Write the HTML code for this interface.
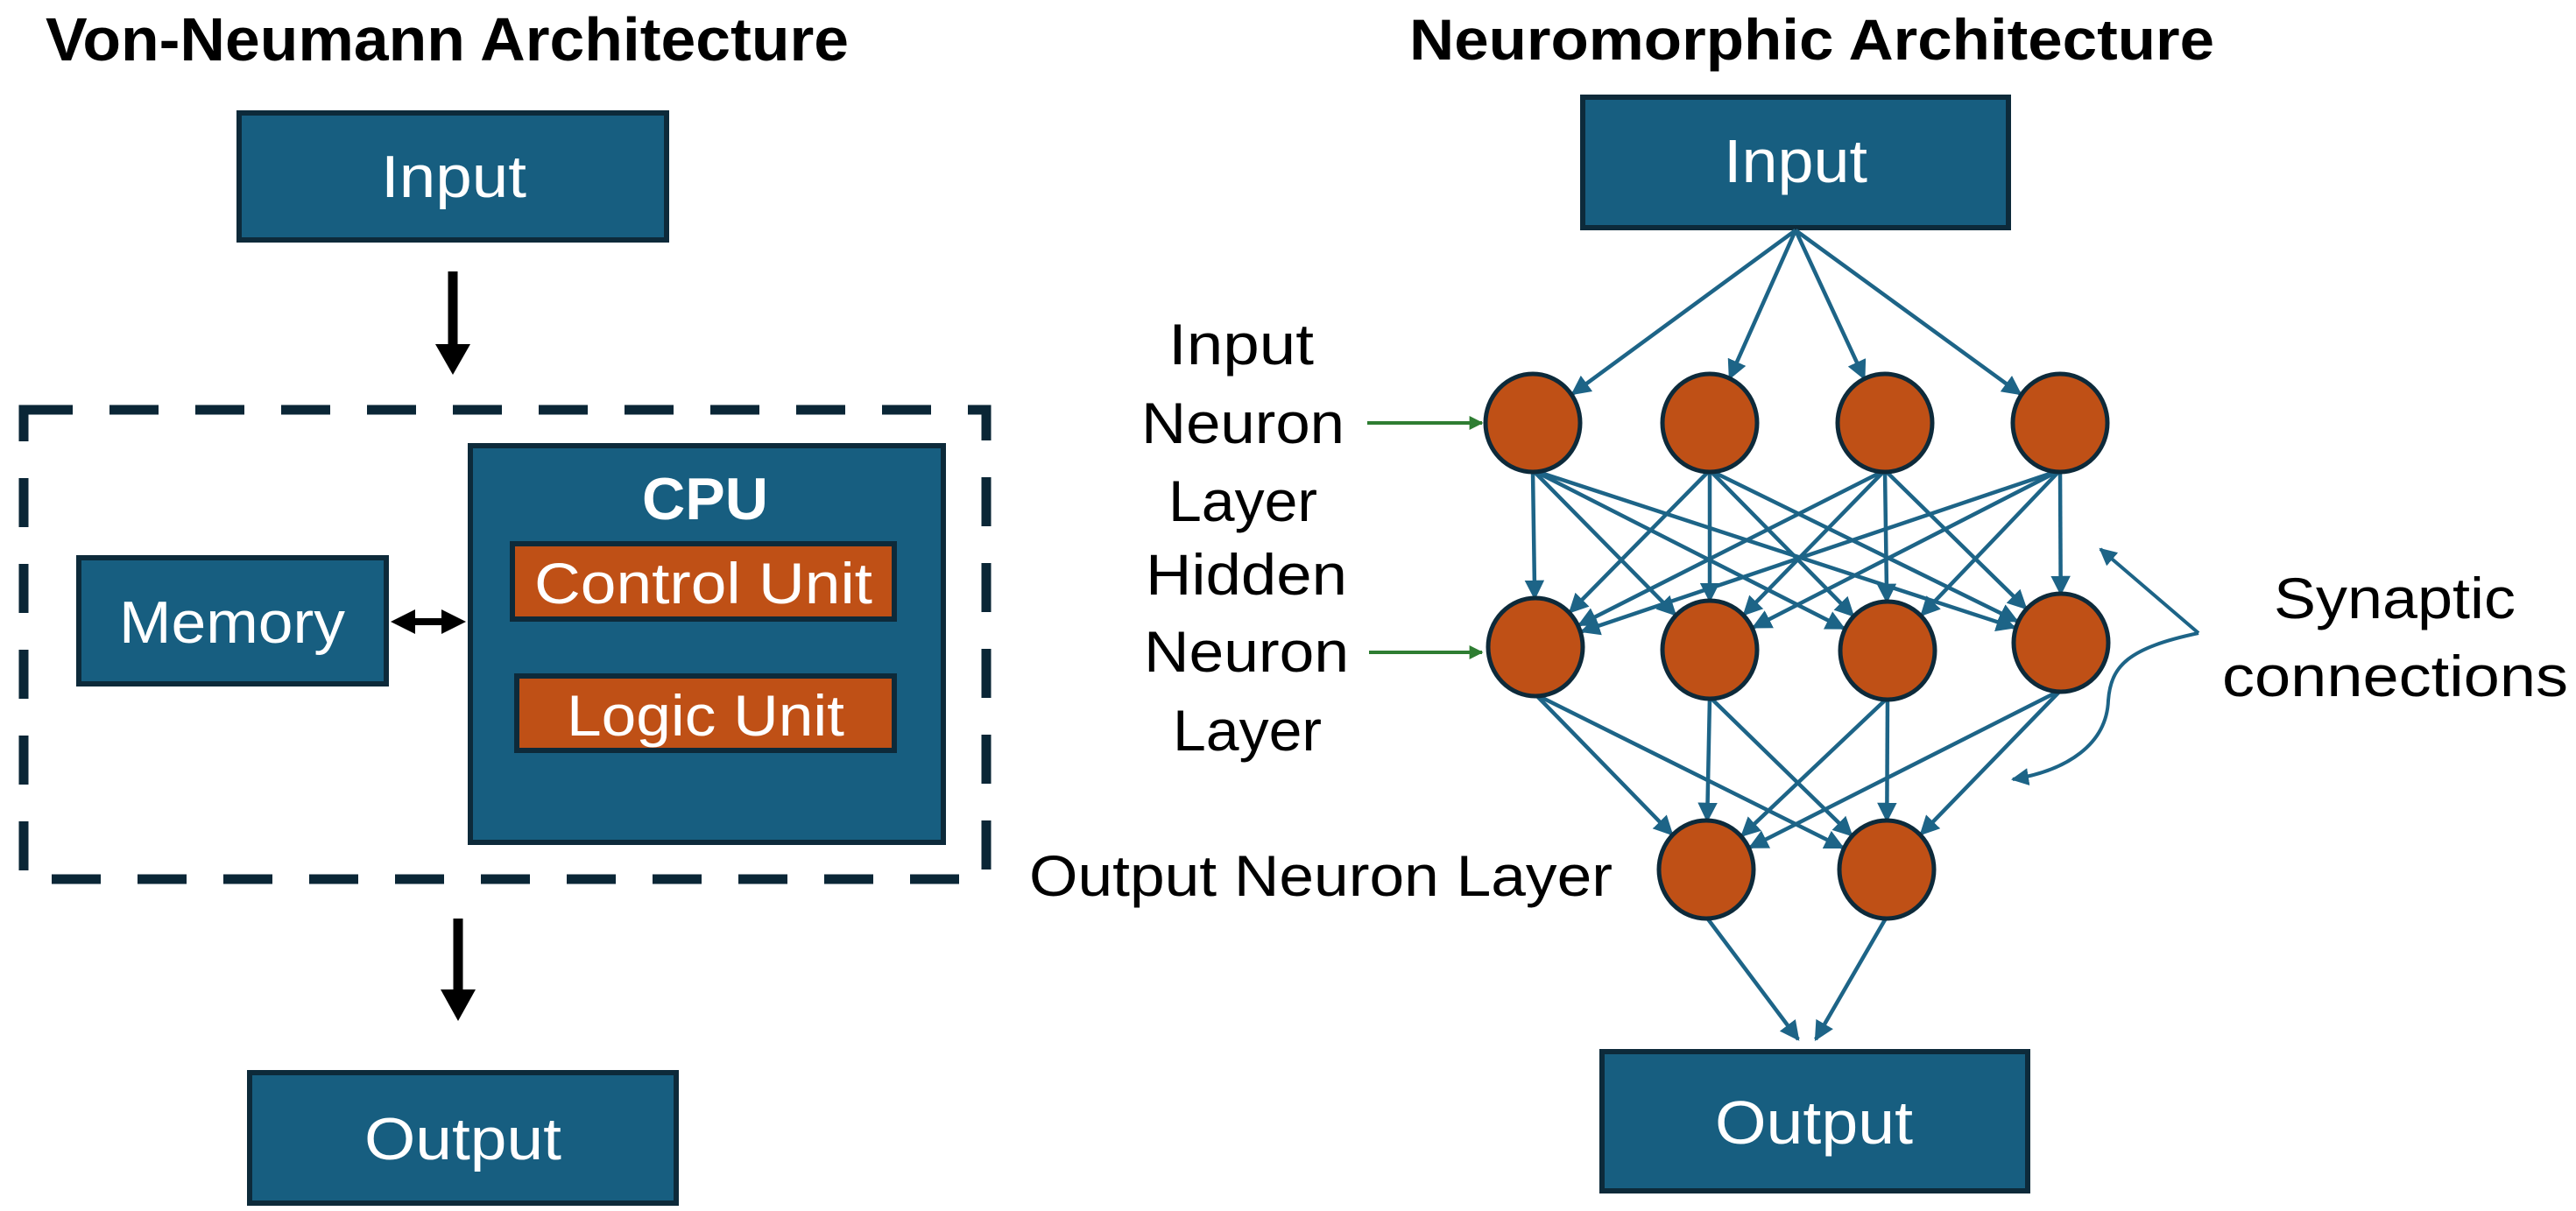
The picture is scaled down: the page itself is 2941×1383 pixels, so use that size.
<!DOCTYPE html>
<html><head><meta charset="utf-8"><style>html,body{margin:0;padding:0;background:#fff}svg{display:block}</style></head>
<body>
<svg id="s" xmlns="http://www.w3.org/2000/svg" width="2941" height="1383" viewBox="0 0 2941 1383">
<defs>
<marker id="ab" viewBox="0 0 10 10" refX="9" refY="5" markerWidth="5" markerHeight="5" orient="auto" markerUnits="strokeWidth"><path d="M0,0L10,5L0,10z" fill="#1d6487"/></marker>
<marker id="ag" viewBox="0 0 10 10" refX="9" refY="5" markerWidth="4" markerHeight="4" orient="auto" markerUnits="strokeWidth"><path d="M0,0L10,5L0,10z" fill="#2e7d32"/></marker>
</defs>
<g font-family="Liberation Sans, sans-serif">
<!-- Left -->
<text x="52" y="69" font-size="70" font-weight="bold" textLength="917" lengthAdjust="spacingAndGlyphs">Von-Neumann Architecture</text>
<rect x="273" y="129" width="488" height="145" fill="#175e80" stroke="#0d2a3a" stroke-width="6"/>
<text x="435" y="225" font-size="68" fill="#fff" textLength="166" lengthAdjust="spacingAndGlyphs">Input</text>
<line x1="517" y1="310" x2="517" y2="395" stroke="#000" stroke-width="11"/>
<path d="M497,393L537,393L517,428z" fill="#000"/>
<rect x="27" y="468" width="1099" height="536" fill="none" stroke="#0a2636" stroke-width="11" stroke-dasharray="56,42"/>
<rect x="537" y="509" width="540" height="453" fill="#175e80" stroke="#0d2a3a" stroke-width="6"/>
<text x="733" y="593" font-size="68" font-weight="bold" fill="#fff" textLength="144" lengthAdjust="spacingAndGlyphs">CPU</text>
<rect x="585" y="621" width="436" height="86" fill="#bf5016" stroke="#0d2a3a" stroke-width="6"/>
<text x="610" y="689" font-size="66" fill="#fff" textLength="386" lengthAdjust="spacingAndGlyphs">Control Unit</text>
<rect x="590" y="772" width="431" height="85" fill="#bf5016" stroke="#0d2a3a" stroke-width="6"/>
<text x="647" y="840" font-size="66" fill="#fff" textLength="317" lengthAdjust="spacingAndGlyphs">Logic Unit</text>
<rect x="90" y="637" width="351" height="144" fill="#175e80" stroke="#0d2a3a" stroke-width="6"/>
<text x="136" y="734" font-size="68" fill="#fff" textLength="258" lengthAdjust="spacingAndGlyphs">Memory</text>
<line x1="470" y1="710" x2="508" y2="710" stroke="#000" stroke-width="8"/>
<path d="M446,710L474,696L474,724z M532,710L504,696L504,724z" fill="#000"/>
<line x1="523" y1="1049" x2="523" y2="1132" stroke="#000" stroke-width="11"/>
<path d="M503,1130L543,1130L523,1166z" fill="#000"/>
<rect x="285" y="1225" width="487" height="149" fill="#175e80" stroke="#0d2a3a" stroke-width="6"/>
<text x="416" y="1324" font-size="68" fill="#fff" textLength="225" lengthAdjust="spacingAndGlyphs">Output</text>

<!-- Right -->
<text x="1609" y="68" font-size="66" font-weight="bold" textLength="919" lengthAdjust="spacingAndGlyphs">Neuromorphic Architecture</text>
<rect x="1807" y="111" width="486" height="149" fill="#175e80" stroke="#0d2a3a" stroke-width="6"/>
<text x="1968" y="208" font-size="70" fill="#fff" textLength="164" lengthAdjust="spacingAndGlyphs">Input</text>
<rect x="1829" y="1201" width="486" height="159" fill="#175e80" stroke="#0d2a3a" stroke-width="6"/>
<text x="1958" y="1306" font-size="70" fill="#fff" textLength="226" lengthAdjust="spacingAndGlyphs">Output</text>
<g id="edges" stroke="#1d6487" stroke-width="4.5" fill="none"></g>
<g id="nodes" fill="#bf5016" stroke="#0d2a3a" stroke-width="5"></g>
<g font-size="66">
<text x="1334" y="416" textLength="166" lengthAdjust="spacingAndGlyphs">Input</text>
<text x="1303" y="506" textLength="232" lengthAdjust="spacingAndGlyphs">Neuron</text>
<text x="1334" y="595" textLength="170" lengthAdjust="spacingAndGlyphs">Layer</text>
<text x="1308" y="679" textLength="230" lengthAdjust="spacingAndGlyphs">Hidden</text>
<text x="1306" y="767" textLength="234" lengthAdjust="spacingAndGlyphs">Neuron</text>
<text x="1339" y="857" textLength="170" lengthAdjust="spacingAndGlyphs">Layer</text>
<text x="1175" y="1023" textLength="666" lengthAdjust="spacingAndGlyphs">Output Neuron Layer</text>
<text x="2596" y="706" textLength="276" lengthAdjust="spacingAndGlyphs">Synaptic</text>
<text x="2537" y="795" textLength="395" lengthAdjust="spacingAndGlyphs">connections</text>
</g>
<line x1="1561" y1="483" x2="1692" y2="483" stroke="#2e7d32" stroke-width="4" marker-end="url(#ag)"/>
<line x1="1563" y1="745" x2="1692" y2="745" stroke="#2e7d32" stroke-width="4" marker-end="url(#ag)"/>
<path d="M2510,723 L2398,627" stroke="#1d6487" stroke-width="4" fill="none" marker-end="url(#ab)"/>
<path d="M2510,723 C2430,740 2410,760 2407,800 C2405,850 2360,880 2298,890" stroke="#1d6487" stroke-width="4" fill="none" marker-end="url(#ab)"/>
</g>
</svg>
<script>
(function(){
var NS="http://www.w3.org/2000/svg",E=document.getElementById("edges"),N=document.getElementById("nodes"),R=54;
var L1=[[1750,483],[1952,483],[2152,483],[2352,483]];
var L2=[[1753,739],[1952,742],[2155,743],[2353,734]];
var L3=[[1948,993],[2154,993]];
function ln(x1,y1,x2,y2){var l=document.createElementNS(NS,"line");l.setAttribute("x1",x1);l.setAttribute("y1",y1);l.setAttribute("x2",x2);l.setAttribute("y2",y2);l.setAttribute("marker-end","url(#ab)");E.appendChild(l);}
function to(sx,sy,c){var dx=c[0]-sx,dy=c[1]-sy,d=Math.sqrt(dx*dx+dy*dy);ln(sx,sy,c[0]-dx/d*(R+2),c[1]-dy/d*(R+2));}
L1.forEach(function(c){to(2050,263,c);});
L1.forEach(function(a){L2.forEach(function(b){to(a[0],a[1]+R,b);});});
L2.forEach(function(a){L3.forEach(function(b){to(a[0],a[1]+R,b);});});
ln(1948,1047,2053,1187);ln(2154,1047,2073,1187);
L1.concat(L2,L3).forEach(function(c){var e=document.createElementNS(NS,"ellipse");e.setAttribute("cx",c[0]);e.setAttribute("cy",c[1]);e.setAttribute("rx",R);e.setAttribute("ry",R+2);N.appendChild(e);});
})();
</script>
</body></html>
